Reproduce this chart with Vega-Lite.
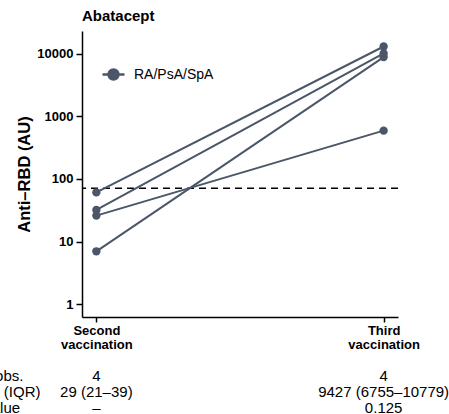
{
  "$schema": "https://vega.github.io/schema/vega-lite/v6.json",
  "padding": {"left": -51, "top": 9, "right": 0, "bottom": 0},
  "spacing": 16,
  "config": {
    "font": "Liberation Sans",
    "view": {"stroke": null},
    "axis": {
      "grid": false,
      "domainColor": "#000000",
      "domainWidth": 1.5,
      "tickColor": "#000000",
      "tickWidth": 1.5,
      "labelColor": "#000000",
      "titleColor": "#000000"
    }
  },
  "datasets": {
    "titers": [
      {"subject": "P1", "stage": "Second vaccination", "group": "RA/PsA/SpA", "titer": 61},
      {"subject": "P1", "stage": "Third vaccination", "group": "RA/PsA/SpA", "titer": 12984},
      {"subject": "P2", "stage": "Second vaccination", "group": "RA/PsA/SpA", "titer": 32},
      {"subject": "P2", "stage": "Third vaccination", "group": "RA/PsA/SpA", "titer": 10044},
      {"subject": "P3", "stage": "Second vaccination", "group": "RA/PsA/SpA", "titer": 7},
      {"subject": "P3", "stage": "Third vaccination", "group": "RA/PsA/SpA", "titer": 8810},
      {"subject": "P4", "stage": "Second vaccination", "group": "RA/PsA/SpA", "titer": 26},
      {"subject": "P4", "stage": "Third vaccination", "group": "RA/PsA/SpA", "titer": 590}
    ],
    "cutoff": [{"cutoff": 71}],
    "summary": [
      {"row": "No. obs.", "stage": "Second vaccination", "value": "4"},
      {"row": "No. obs.", "stage": "Third vaccination", "value": "4"},
      {"row": "Median (IQR)", "stage": "Second vaccination", "value": "29 (21–39)"},
      {"row": "Median (IQR)", "stage": "Third vaccination", "value": "9427 (6755–10779)"},
      {"row": "p-value", "stage": "Second vaccination", "value": "–"},
      {"row": "p-value", "stage": "Third vaccination", "value": "0.125"}
    ]
  },
  "vconcat": [
    {
      "width": 316,
      "height": 286,
      "title": {
        "text": "Abatacept",
        "anchor": "start",
        "frame": "group",
        "fontSize": 15,
        "fontWeight": "bold",
        "color": "#000000",
        "offset": 7
      },
      "layer": [
        {
          "data": {"name": "cutoff"},
          "mark": {"type": "rule", "strokeDash": [7, 5], "strokeWidth": 1.5, "color": "#000000"},
          "encoding": {
            "y": {"field": "cutoff", "type": "quantitative", "scale": {"type": "log", "domain": [0.627, 22950], "nice": false, "zero": false}}
          }
        },
        {
          "data": {"name": "titers"},
          "mark": {"type": "line", "strokeWidth": 2},
          "encoding": {
            "x": {
              "field": "stage", "type": "nominal",
              "scale": {"type": "point", "padding": 0.05, "domain": ["Second vaccination", "Third vaccination"]},
              "axis": {"title": null, "labelAngle": 0, "labelExpr": "split(datum.label, ' ')", "labelFontSize": 13, "labelFontWeight": "bold", "labelLineHeight": 14.5, "labelPadding": 2, "tickSize": 5}
            },
            "y": {
              "field": "titer", "type": "quantitative",
              "scale": {"type": "log", "domain": [0.627, 22950], "nice": false, "zero": false},
              "axis": {"title": "Anti–RBD (AU)", "titleFontSize": 16.5, "titleFontWeight": "bold", "titlePadding": 4, "values": [1, 10, 100, 1000, 10000], "format": "d", "labelFontSize": 13, "labelFontWeight": "bold", "labelPadding": 3, "tickSize": 6}
            },
            "detail": {"field": "subject"},
            "color": {
              "field": "group", "type": "nominal",
              "scale": {"range": ["#4b5669"]},
              "legend": {
                "title": null, "orient": "none", "legendX": 19, "legendY": 31,
                "symbolType": "M-1,0H1M-0.45,0A0.45,0.45 0 1,1 0.45,0A0.45,0.45 0 1,1 -0.45,0Z",
                "symbolSize": 484, "symbolStrokeWidth": 2.5,
                "symbolFillColor": "#4b5669", "symbolStrokeColor": "#4b5669",
                "labelFontSize": 14, "labelColor": "#000000", "labelOffset": 8
              }
            }
          }
        },
        {
          "data": {"name": "titers"},
          "mark": {"type": "circle", "size": 70, "opacity": 1},
          "encoding": {
            "x": {"field": "stage", "type": "nominal"},
            "y": {"field": "titer", "type": "quantitative"},
            "color": {
              "field": "group", "type": "nominal",
              "legend": {
                "title": null, "orient": "none", "legendX": 19, "legendY": 31,
                "symbolType": "M-1,0H1M-0.45,0A0.45,0.45 0 1,1 0.45,0A0.45,0.45 0 1,1 -0.45,0Z",
                "symbolSize": 484, "symbolStrokeWidth": 2.5,
                "symbolFillColor": "#4b5669", "symbolStrokeColor": "#4b5669",
                "labelFontSize": 14, "labelColor": "#000000", "labelOffset": 8
              }
            }
          }
        }
      ]
    },
    {
      "width": 316,
      "height": 48,
      "data": {"name": "summary"},
      "mark": {"type": "text", "fontSize": 15, "color": "#000000"},
      "encoding": {
        "x": {
          "field": "stage", "type": "nominal",
          "scale": {"type": "point", "padding": 0.05, "domain": ["Second vaccination", "Third vaccination"]},
          "axis": null
        },
        "y": {
          "field": "row", "type": "nominal",
          "sort": ["No. obs.", "Median (IQR)", "p-value"],
          "scale": {"type": "band", "paddingInner": 0, "paddingOuter": 0},
          "axis": {"title": null, "domain": false, "ticks": false, "tickSize": 0, "labelAlign": "center", "labelPadding": 87, "labelFontSize": 15, "labelFontWeight": "normal", "labelColor": "#000000"}
        },
        "text": {"field": "value"}
      }
    }
  ]
}
